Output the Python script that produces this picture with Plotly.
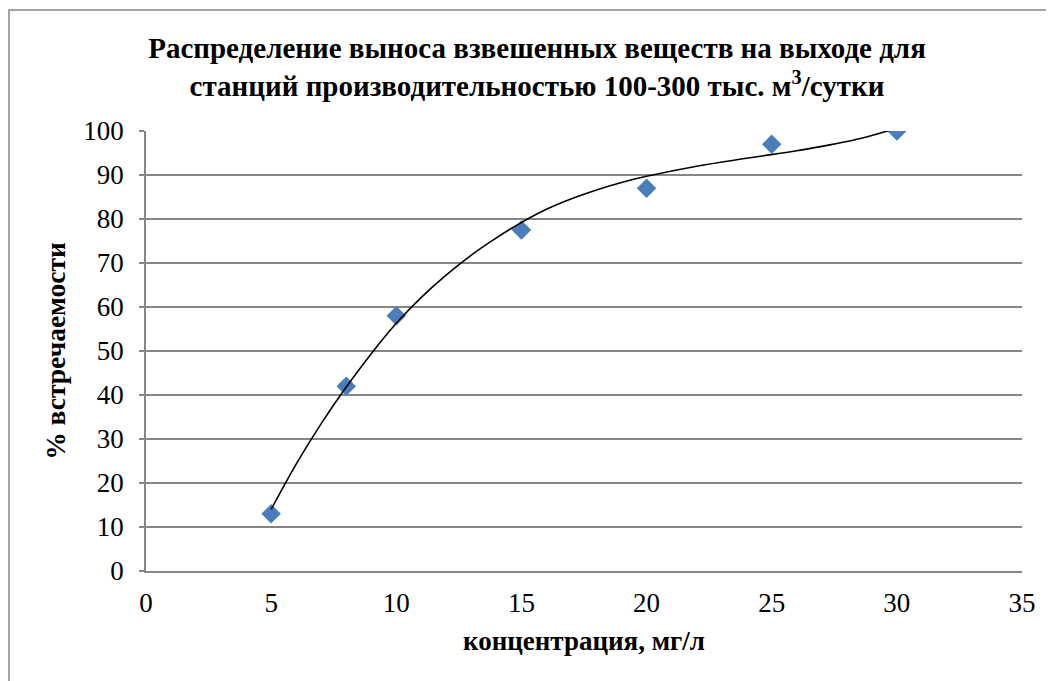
import plotly.graph_objects as go

# Data points (concentration, % occurrence)
conc = [5, 8, 10, 15, 20, 25, 30]
occurrence = [13, 42, 58, 77.5, 87, 97, 100]

# Trend line
trend_x = [5, 6, 7, 8, 9, 10, 11, 12, 13, 14, 15, 16, 17, 18, 19, 20, 22, 24, 26, 27, 28, 29, 30]
trend_y = [14, 24.3, 33.5, 41.8, 49.4, 56.3, 62.2, 67.3, 71.8, 75.7, 79.2, 82.2, 84.6, 86.6, 88.3,
           89.7, 92, 93.8, 95.5, 96.5, 97.6, 99, 100.6]

x_ticks = [0, 5, 10, 15, 20, 25, 30, 35]
y_ticks = [0, 10, 20, 30, 40, 50, 60, 70, 80, 90, 100]

title_text = ("Распределение выноса взвешенных веществ на выходе для<br>"
              "станций производительностью 100-300 тыс. м<sup>3</sup>/сутки")
x_title = "концентрация, мг/л"
y_title = "% встречаемости"

OFF = 8  # page body margin
W, H = 1054 - OFF, 681 - OFF
L, T = 146 - OFF, 131 - OFF
pw, ph = 876, 440
R, B = W - L - pw, H - T - ph

GRID = "#868686"
FONT = "Liberation Serif"

fig = go.Figure()
fig.add_trace(go.Scatter(
    x=conc, y=occurrence, mode="markers",
    marker=dict(symbol="diamond", size=15, color="#4A7EBB", line=dict(width=0)),
    showlegend=False, hoverinfo="x+y"))
fig.add_trace(go.Scatter(
    x=trend_x, y=trend_y, mode="lines", line=dict(color="black", width=1.6, shape="spline", smoothing=1.0),
    showlegend=False, hoverinfo="skip"))

def px_x(p):
    return (p - OFF - L) / pw

def px_y(p):
    return (H - B - (p - OFF)) / ph

fig.add_shape(type="rect", xref="paper", yref="paper",
              x0=px_x(9), x1=px_x(1052), y0=px_y(700), y1=px_y(10),
              line=dict(color=GRID, width=1.5), fillcolor="rgba(0,0,0,0)", layer="below")

fig.update_layout(
    width=W, height=H,
    margin=dict(l=L, r=R, t=T, b=B),
    paper_bgcolor="white", plot_bgcolor="white",
    font=dict(family=FONT, color="black", size=27),
    title=dict(text=title_text, x=(537 - OFF) / W, xanchor="center", xref="container",
               y=1 - (58 - OFF) / H, yanchor="top", yref="container",
               font=dict(family=FONT, size=29, color="black", weight="bold")),
    xaxis=dict(range=[0, 35], tickvals=x_ticks, ticks="", showgrid=False,
               showline=True, linecolor=GRID, linewidth=1.5, zeroline=False,
               tickfont=dict(family=FONT, size=27), ticklabelstandoff=7,
               title=dict(text=x_title, font=dict(family=FONT, size=27, weight="bold"), standoff=14)),
    yaxis=dict(range=[0, 100], tickvals=y_ticks, ticks="outside", ticklen=5,
               tickcolor=GRID, tickwidth=1.5, showgrid=True, gridcolor=GRID, gridwidth=1.5,
               showline=True, linecolor=GRID, linewidth=1.5, zeroline=False,
               tickfont=dict(family=FONT, size=27), ticklabelstandoff=10,
               title=dict(text=y_title, font=dict(family=FONT, size=27.5, weight="bold"), standoff=10)),
)

fig.write_html("out.html")
